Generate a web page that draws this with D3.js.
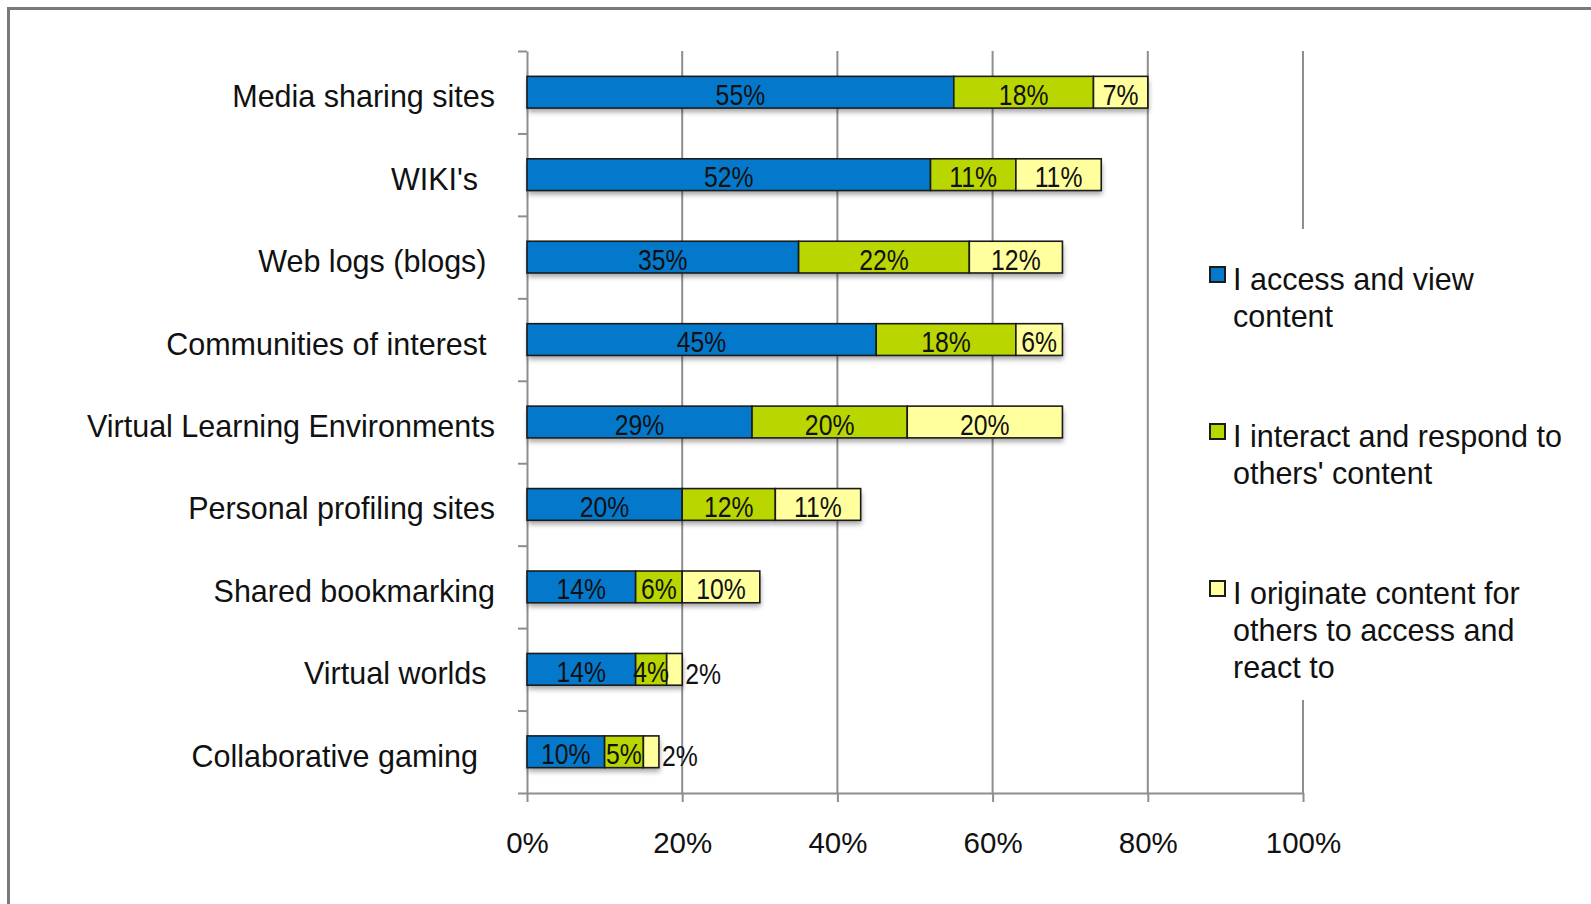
<!DOCTYPE html>
<html>
<head>
<meta charset="utf-8">
<script src="https://cdn.jsdelivr.net/npm/d3@7"></script>
<style>
  html, body { margin: 0; padding: 0; background: #fff; }
  svg { display: block; }
  text { white-space: pre; }
</style>
</head>
<body>
<svg id="chart" width="1591" height="904"></svg>
<script>
// Survey of Web 2.0 tool use: share of respondents per level of engagement
const categories = [
  "Media sharing sites",
  "WIKI's  ",
  "Web logs (blogs) ",
  "Communities of interest ",
  "Virtual Learning Environments",
  "Personal profiling sites",
  "Shared bookmarking",
  "Virtual worlds ",
  "Collaborative gaming  "
];
const seriesNames = [
  "I access and view content",
  "I interact and respond to others' content",
  "I originate content for others to access and react to"
];
const accessView  = [55, 52, 35, 45, 29, 20, 14, 14, 10];
const interact    = [18, 11, 22, 18, 20, 12, 6, 4, 5];
const originate   = [7, 11, 12, 6, 20, 11, 10, 2, 2];
const xTicks = [0, 20, 40, 60, 80, 100];
const legendLines = [
  ["I access and view", "content"],
  ["I interact and respond to", "others' content"],
  ["I originate content for", "others to access and", "react to"]
];
const colors = ["#0479cc", "#bad600", "#ffff9e"];

const svg = d3.select("#chart");
const W = 1591, H = 904;
const plotL = 527, plotR = 1303, plotT = 51, plotB = 793;

// outer frame (top and left edges)
svg.append("path")
  .attr("d", `M8.5,${H} V8.5 H${W}`)
  .attr("fill", "none").attr("stroke", "#7a7a7a").attr("stroke-width", 3);

const defs = svg.append("defs");
const f = defs.append("filter").attr("id", "shadow")
  .attr("x", "-5%").attr("y", "-30%").attr("width", "115%").attr("height", "180%");
f.append("feDropShadow").attr("dx", 1).attr("dy", 4).attr("stdDeviation", 2.5)
  .attr("flood-color", "#000").attr("flood-opacity", 0.35);

const x = d3.scaleLinear().domain([0, 100]).range([plotL, plotR]);
const y = d3.scaleBand().domain(categories).range([plotT, plotB])
  .paddingInner(0.615).paddingOuter(0.3075);
const yEdge = d3.scaleLinear().domain([0, categories.length]).range([plotT, plotB]);

const gridColor = "#8e8e8e";
const sans = "'Liberation Sans', Arial, sans-serif";

// vertical gridlines
svg.append("g").selectAll("line").data(xTicks.slice(1)).join("line")
  .attr("x1", d => x(d)).attr("x2", d => x(d))
  .attr("y1", plotT).attr("y2", plotB)
  .attr("stroke", gridColor).attr("stroke-width", 2);

// x axis
const xAxis = svg.append("g").attr("transform", `translate(0,${plotB})`)
  .call(d3.axisBottom(x).tickValues(xTicks).tickFormat(d => d + "%").tickSize(9).tickSizeOuter(0).tickPadding(30));
xAxis.select(".domain").attr("stroke", gridColor).attr("stroke-width", 2);
xAxis.selectAll(".tick line").attr("stroke", gridColor).attr("stroke-width", 2);
xAxis.selectAll(".tick text")
  .attr("font-family", sans)
  .attr("font-size", 29.5).attr("fill", "#111");

// y axis with ticks at category boundaries
const yAxis = svg.append("g").attr("transform", `translate(${plotL},0)`)
  .call(d3.axisLeft(yEdge).tickValues(d3.range(categories.length + 1)).tickFormat("").tickSize(9).tickSizeOuter(0));
yAxis.select(".domain").attr("stroke", gridColor).attr("stroke-width", 2);
yAxis.selectAll(".tick line").attr("stroke", gridColor).attr("stroke-width", 2);

// category labels
svg.append("g").selectAll("text").data(categories).join("text")
  .attr("x", 495)
  .attr("y", d => y(d) + y.bandwidth() / 2 + 15)
  .attr("text-anchor", "end")
  .attr("font-family", sans)
  .attr("font-size", 30.5).attr("fill", "#111")
  .text(d => d);

// stacked segments
const rows = categories.map((c, i) => ({ cat: c, vals: [accessView[i], interact[i], originate[i]] }));
const segs = [];
rows.forEach(r => {
  let acc = 0;
  r.vals.forEach((v, k) => {
    segs.push({ cat: r.cat, k, v, x0: acc, x1: acc + v, last: k === r.vals.length - 1 });
    acc += v;
  });
});

const bars = svg.append("g");
rows.forEach(r => {
  const total = d3.sum(r.vals);
  bars.append("rect")
    .attr("x", x(0)).attr("y", y(r.cat))
    .attr("width", x(total) - x(0)).attr("height", y.bandwidth())
    .attr("fill", "#fff").attr("filter", "url(#shadow)");
});
bars.selectAll("rect.seg").data(segs).join("rect").attr("class", "seg")
  .attr("x", d => x(d.x0)).attr("y", d => y(d.cat))
  .attr("width", d => x(d.x1) - x(d.x0)).attr("height", y.bandwidth())
  .attr("fill", d => colors[d.k])
  .attr("stroke", "#1b1b1b").attr("stroke-width", 1.6);

// value labels (condensed): centred in the segment, or just past the bar end for tiny segments
const outside = d => d.last && d.v < 3;
svg.append("g").selectAll("text").data(segs).join("text")
  .attr("transform", d => {
    const tx = outside(d) ? x(d.x1) + 3 : (x(d.x0) + x(d.x1)) / 2;
    const ty = y(d.cat) + y.bandwidth() / 2 + 12.5 + (outside(d) ? 2 : 0);
    return `translate(${tx},${ty}) scale(0.84,1)`;
  })
  .attr("text-anchor", d => outside(d) ? "start" : "middle")
  .attr("font-family", sans)
  .attr("font-size", 29.5).attr("fill", "#111")
  .text(d => d.v + "%");

// legend (white backing interrupts the 100% gridline)
const lg = svg.append("g");
lg.append("rect").attr("x", 1190).attr("y", 229).attr("width", 400).attr("height", 471).attr("fill", "#fff");
const legendBase = [290, 447, 604];
legendLines.forEach((lines, k) => {
  lg.append("rect")
    .attr("x", 1210).attr("y", legendBase[k] - 23)
    .attr("width", 15).attr("height", 15)
    .attr("fill", colors[k]).attr("stroke", "#1b1b1b").attr("stroke-width", 2);
  const t = lg.append("text")
    .attr("font-family", sans)
    .attr("font-size", 30.5).attr("fill", "#111");
  lines.forEach((ln, j) => {
    t.append("tspan").attr("x", 1233).attr("y", legendBase[k] + j * 37).text(ln);
  });
});
</script>
</body>
</html>
